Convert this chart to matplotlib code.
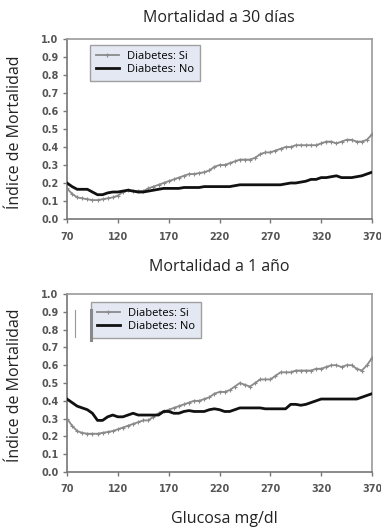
import matplotlib
matplotlib.use("Agg")
import matplotlib.pyplot as plt
from matplotlib.lines import Line2D

glucosa = list(range(70, 371, 5))

si_30d = [0.17, 0.14, 0.12, 0.115, 0.11, 0.105, 0.105, 0.11, 0.115, 0.12,
          0.13, 0.15, 0.16, 0.155, 0.155, 0.155, 0.17, 0.18, 0.19, 0.20,
          0.21, 0.22, 0.23, 0.24, 0.25, 0.25, 0.255, 0.26, 0.27, 0.29,
          0.30, 0.30, 0.31, 0.32, 0.33, 0.33, 0.33, 0.34, 0.36, 0.37,
          0.37, 0.38, 0.39, 0.40, 0.40, 0.41, 0.41, 0.41, 0.41, 0.41,
          0.42, 0.43, 0.43, 0.42, 0.43, 0.44, 0.44, 0.43, 0.43, 0.44, 0.47]
no_30d = [0.20, 0.18, 0.165, 0.165, 0.165, 0.15, 0.135, 0.135, 0.145, 0.15,
          0.15, 0.155, 0.16, 0.155, 0.15, 0.15, 0.155, 0.16, 0.165, 0.17,
          0.17, 0.17, 0.17, 0.175, 0.175, 0.175, 0.175, 0.18, 0.18, 0.18,
          0.18, 0.18, 0.18, 0.185, 0.19, 0.19, 0.19, 0.19, 0.19, 0.19,
          0.19, 0.19, 0.19, 0.195, 0.20, 0.20, 0.205, 0.21, 0.22, 0.22,
          0.23, 0.23, 0.235, 0.24, 0.23, 0.23, 0.23, 0.235, 0.24, 0.25, 0.26]
si_1a = [0.30, 0.26, 0.23, 0.22, 0.215, 0.215, 0.215, 0.22, 0.225, 0.23,
         0.24, 0.25, 0.26, 0.27, 0.28, 0.29, 0.29, 0.31, 0.33, 0.34,
         0.35, 0.36, 0.37, 0.38, 0.39, 0.40, 0.40, 0.41, 0.42, 0.44,
         0.45, 0.45, 0.46, 0.48, 0.50, 0.49, 0.48, 0.50, 0.52, 0.52,
         0.52, 0.54, 0.56, 0.56, 0.56, 0.57, 0.57, 0.57, 0.57, 0.58,
         0.58, 0.59, 0.60, 0.60, 0.59, 0.60, 0.60, 0.58, 0.57, 0.60, 0.64]
no_1a = [0.41, 0.39, 0.37, 0.36, 0.35, 0.33, 0.29, 0.29, 0.31, 0.32,
         0.31, 0.31, 0.32, 0.33, 0.32, 0.32, 0.32, 0.32, 0.32, 0.34,
         0.34, 0.33, 0.33, 0.34, 0.345, 0.34, 0.34, 0.34, 0.35, 0.355,
         0.35, 0.34, 0.34, 0.35, 0.36, 0.36, 0.36, 0.36, 0.36, 0.355,
         0.355, 0.355, 0.355, 0.355, 0.38, 0.38, 0.375, 0.38, 0.39, 0.40,
         0.41, 0.41, 0.41, 0.41, 0.41, 0.41, 0.41, 0.41, 0.42, 0.43, 0.44]

x_ticks = [70, 120, 170, 220, 270, 320, 370]
y_ticks = [0.0, 0.1, 0.2, 0.3, 0.4, 0.5, 0.6, 0.7, 0.8, 0.9, 1.0]
titles = ["Mortalidad a 30 días", "Mortalidad a 1 año"]
labels = ["Diabetes: Si", "Diabetes: No"]

W, H = 381, 530
fig = plt.figure(figsize=(W / 100, H / 100), dpi=100)
fig.patch.set_facecolor("white")

TXT = "Open Sans"

def fx(px):
    return px / W

def fy(py):
    return (H - py) / H

panels = [
    dict(si=si_30d, no=no_30d, top=39, bot=219, title=titles[0], ty=18,
         leg=(90, 45), ylab=132),
    dict(si=si_1a, no=no_1a, top=294, bot=472, title=titles[1], ty=267,
         leg=(91, 302), ylab=385),
]

left_px, right_px = 67, 372
for p in panels:
    ax = fig.add_axes([fx(left_px), fy(p["bot"]), fx(right_px) - fx(left_px),
                       (p["bot"] - p["top"]) / H])
    ax.plot(glucosa, p["si"], color="#8a8a8a", lw=1.3, marker="+", ms=2.5,
            mew=0.8, label=labels[0], zorder=3)
    ax.plot(glucosa, p["no"], color="#111111", lw=2.0, label=labels[1], zorder=4)
    ax.set_xlim(70, 370)
    ax.set_ylim(0, 1.0)
    ax.set_xticks(x_ticks)
    ax.set_yticks(y_ticks)
    ax.set_xticklabels([str(v) for v in x_ticks])
    ax.set_yticklabels([f"{v:.1f}" for v in y_ticks])
    for lab in ax.get_xticklabels() + ax.get_yticklabels():
        lab.set_fontfamily("DejaVu Sans")
        lab.set_fontweight("bold")
        lab.set_fontsize(7)
        lab.set_color("#555555")
    ax.tick_params(axis="both", direction="out", length=3, width=1,
                   color="#777777", pad=3)
    ax.tick_params(axis="x", pad=6)
    for s in ax.spines.values():
        s.set_color("#9a9a9a")
        s.set_linewidth(1.2)
    ax.spines["left"].set_color("#777777")
    ax.spines["bottom"].set_color("#777777")

    l = ax.legend(loc="upper left",
                  bbox_to_anchor=((p["leg"][0] - left_px) / (right_px - left_px),
                                  (p["bot"] - p["leg"][1]) / (p["bot"] - p["top"])),
                  frameon=True, fancybox=False, prop={"family": TXT, "size": 8},
                  handlelength=2.1, handletextpad=0.75, borderpad=0.5,
                  labelspacing=0.25, borderaxespad=0)
    l.get_frame().set_facecolor("#e3e8f2")
    l.get_frame().set_edgecolor("#a0a0a0")
    l.get_frame().set_linewidth(1.0)
    l.get_frame().set_alpha(1.0)

    fig.text(fx(219), fy(p["ty"]), p["title"], ha="center", va="center",
             fontsize=11.5, family=TXT, color="#222222")
    fig.text(fx(15), fy(p["ylab"]), "Índice de Mortalidad", ha="center",
             va="center", rotation=90, fontsize=11.5, family=TXT, color="#222222")

# scan artefacts next to the lower legend
fig.add_artist(Line2D([fx(75), fx(75)], [fy(310), fy(337)], color="#999999", lw=0.8))
fig.add_artist(Line2D([fx(90.5), fx(90.5)], [fy(310), fy(340)], color="#888888", lw=2.2))

fig.text(fx(224), fy(519), "Glucosa mg/dl", ha="center", va="center",
         fontsize=11.5, family=TXT, color="#222222")

fig.savefig("out.png", dpi=100, facecolor="white")
